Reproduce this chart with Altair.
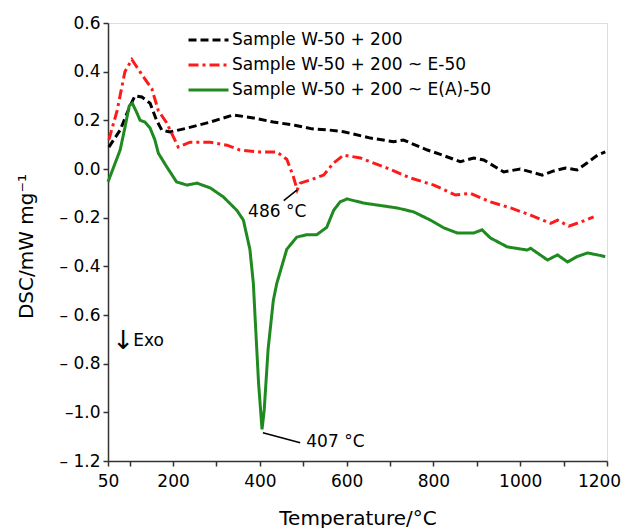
import altair as alt
import pandas as pd

# ---------------- data ----------------
series_names = [
    "Sample W-50 + 200",
    "Sample W-50 + 200 ~ E-50",
    "Sample W-50 + 200 ~ E(A)-50",
]
series_colors = ["#000000", "#ff1a1a", "#1f8a1f"]
series_dashes = [[8, 4], [10, 4, 3, 4], [1, 0]]

black_T = [52, 78, 101, 112, 128, 147, 162, 174, 193, 232, 286, 339, 385, 431, 480, 520,
           560, 593, 655, 708, 731, 786, 816, 862, 893, 916, 962, 1000, 1024, 1051, 1077,
           1104, 1131, 1154, 1178, 1196]
black_v = [0.09, 0.16, 0.26, 0.30, 0.296, 0.27, 0.20, 0.16, 0.152, 0.168, 0.193, 0.222,
           0.21, 0.193, 0.18, 0.165, 0.16, 0.153, 0.127, 0.112, 0.119, 0.078, 0.06, 0.03,
           0.045, 0.037, -0.012, 0.0, -0.012, -0.025, -0.008, 0.004, -0.004, 0.025, 0.057,
           0.07]

red_T = [52, 71, 89, 105, 116, 135, 151, 166, 185, 212, 239, 286, 324, 354, 400, 439, 462,
         477, 486, 493, 516, 547, 570, 593, 632, 693, 747, 801, 851, 885, 931, 978, 1024,
         1070, 1086, 1112, 1139, 1169]
red_v = [0.12, 0.24, 0.40, 0.45, 0.42, 0.37, 0.33, 0.24, 0.19, 0.09, 0.11, 0.11, 0.098,
         0.078, 0.07, 0.07, 0.04, -0.03, -0.086, -0.058, -0.045, -0.025, 0.025, 0.057,
         0.045, 0.004, -0.037, -0.066, -0.107, -0.10, -0.135, -0.16, -0.19, -0.223, -0.21,
         -0.235, -0.218, -0.197]

green_T = [50, 78, 89, 99, 106, 116, 124, 135, 147, 158, 166, 185, 208, 232, 255, 286, 316,
           347, 362, 377, 385, 389, 397, 405, 410, 419, 431, 439, 462, 485, 508, 531, 554,
           570, 585, 601, 639, 716, 754, 793, 824, 855, 893, 912, 931, 970, 1016, 1024,
           1063, 1086, 1109, 1131, 1155, 1178, 1196]
green_v = [-0.053, 0.078, 0.17, 0.26, 0.27, 0.233, 0.20, 0.193, 0.168, 0.12, 0.065, 0.01,
           -0.053, -0.066, -0.058, -0.078, -0.115, -0.17, -0.21, -0.33, -0.47, -0.61, -0.88,
           -1.07, -0.99, -0.74, -0.54, -0.47, -0.33, -0.28, -0.27, -0.27, -0.24, -0.17,
           -0.135, -0.123, -0.14, -0.16, -0.176, -0.21, -0.242, -0.263, -0.263, -0.25,
           -0.283, -0.32, -0.333, -0.326, -0.374, -0.353, -0.382, -0.36, -0.345, -0.353,
           -0.36]

x_ticks = [50, 100, 200, 300, 400, 500, 600, 700, 800, 900, 1000, 1100, 1200]
y_ticks = [-1.2, -1.1, -1.0, -0.9, -0.8, -0.7, -0.6, -0.5, -0.4, -0.3, -0.2, -0.1,
           0.0, 0.1, 0.2, 0.3, 0.4, 0.5, 0.6]

# annotations (data units)
ann_text = ["486 °C", "407 °C"]
ann_T = [440, 507]
ann_v = [-0.177, -1.12]
lead_T1 = [486, 407]
lead_v1 = [-0.086, -1.084]
lead_T2 = [455, 493]
lead_v2 = [-0.13, -1.125]
exo_T = [85, 108]
exo_v = [-0.706, -0.706]

# ---------------- build tables ----------------
rows = []
for name, T, v in zip(series_names, [black_T, red_T, green_T], [black_v, red_v, green_v]):
    for i, (t, val) in enumerate(zip(T, v)):
        rows.append({"series": name, "T": t, "v": val, "i": i})
df = pd.DataFrame(rows)

FONT = "DejaVu Sans"

xscale = alt.Scale(domain=[50, 1200], nice=False, zero=False)
yscale = alt.Scale(domain=[-1.2, 0.6], nice=False, zero=False)

x_label_expr = (
    "(datum.value == 50 || datum.value % 200 == 0) ? format(datum.value, 'd') : ''"
)
y_label_expr = (
    "abs(round(datum.value*10)) % 2 == 1 ? '' : "
    "(datum.value < -0.001 ? (abs(datum.value + 1) < 0.001 ? '–' : '– ') + format(-datum.value, '.1f') "
    ": format(datum.value, '.1f'))"
)

x_axis = alt.Axis(
    values=x_ticks,
    labelExpr=x_label_expr,
    labelOverlap=False,
    labelOffset={"expr": "datum.value == 1200 ? -8 : 0"},
    title="Temperature/°C",
    titleFontSize=20,
    titleFont=FONT,
    titleFontWeight="normal",
    titleBaseline="alphabetic",
    titleY=63,
    labelFontSize=17,
    labelFont=FONT,
    labelPadding=7,
    tickSize=5,
    grid=False,
    domainColor="#333333",
    domainWidth=1.5,
    tickColor="#333333",
    tickWidth=1.5,
    labelColor="#000000",
    titleColor="#000000",
    labelFlush=False,
)
y_axis = alt.Axis(
    values=y_ticks,
    labelExpr=y_label_expr,
    labelOverlap=False,
    title="DSC/mW mg⁻¹",
    titleFontSize=20,
    titleFont=FONT,
    titleFontWeight="normal",
    titleAngle=270,
    titleBaseline="alphabetic",
    titleX=-76,
    titleY=223,
    labelFontSize=17,
    labelFont=FONT,
    labelPadding=3,
    tickSize=5,
    grid=False,
    domainColor="#333333",
    domainWidth=1.5,
    tickColor="#333333",
    tickWidth=1.5,
    labelColor="#000000",
    titleColor="#000000",
    labelFlush=False,
)

legend = alt.Legend(
    title=None,
    orient="none",
    legendX=79,
    legendY=8,
    symbolType="stroke",
    symbolSize=1600,
    symbolStrokeWidth=3,
    labelFontSize=17,
    labelFont=FONT,
    labelColor="#000000",
    labelOffset=2,
    labelLimit=0,
    rowPadding=7,
    clipHeight=18,
    padding=0,
)

lines = alt.Chart(df).mark_line(strokeWidth=3).encode(
    x=alt.X("T:Q", scale=xscale, axis=x_axis),
    y=alt.Y("v:Q", scale=yscale, axis=y_axis),
    color=alt.Color("series:N", scale=alt.Scale(domain=series_names, range=series_colors),
                    legend=legend),
    strokeDash=alt.StrokeDash("series:N",
                              scale=alt.Scale(domain=series_names, range=series_dashes),
                              legend=legend),
    order="i:Q",
)

ann_df = pd.DataFrame({"text": ann_text, "T": ann_T, "v": ann_v})
lead_df = pd.DataFrame({"T": lead_T1, "v": lead_v1, "T2": lead_T2, "v2": lead_v2})

ann_center = alt.Chart(ann_df.iloc[[0]]).mark_text(
    fontSize=17, font=FONT, align="center", baseline="middle", color="#000000"
).encode(x=alt.X("T:Q", scale=xscale), y=alt.Y("v:Q", scale=yscale), text="text:N")
ann_left = alt.Chart(ann_df.iloc[[1]]).mark_text(
    fontSize=17, font=FONT, align="left", baseline="middle", color="#000000"
).encode(x=alt.X("T:Q", scale=xscale), y=alt.Y("v:Q", scale=yscale), text="text:N")

leaders = alt.Chart(lead_df).mark_rule(color="#000000", strokeWidth=1.5).encode(
    x=alt.X("T:Q", scale=xscale), y=alt.Y("v:Q", scale=yscale),
    x2="T2:Q", y2="v2:Q",
)

exo_df = pd.DataFrame({"text": ["↓", "Exo"], "T": exo_T, "v": exo_v})
exo_arrow = alt.Chart(exo_df.iloc[[0]]).mark_text(
    fontSize=26, font=FONT, align="center", baseline="middle", color="#000000"
).encode(x=alt.X("T:Q", scale=xscale), y=alt.Y("v:Q", scale=yscale), text="text:N")
exo_text = alt.Chart(exo_df.iloc[[1]]).mark_text(
    fontSize=17, font=FONT, align="left", baseline="middle", color="#000000"
).encode(x=alt.X("T:Q", scale=xscale), y=alt.Y("v:Q", scale=yscale), text="text:N")

chart = alt.layer(lines, leaders, ann_center, ann_left, exo_arrow, exo_text).properties(
    width=499,
    height=438,
    autosize=alt.AutoSizeParams(type="none"),
    padding={"left": 100, "top": 15, "right": 14, "bottom": 72},
    background="#ffffff",
).configure_view(
    stroke="#333333", strokeWidth=1.5
).configure(font=FONT)

chart.save("out.html", embed_options={"renderer": "svg", "actions": False})
